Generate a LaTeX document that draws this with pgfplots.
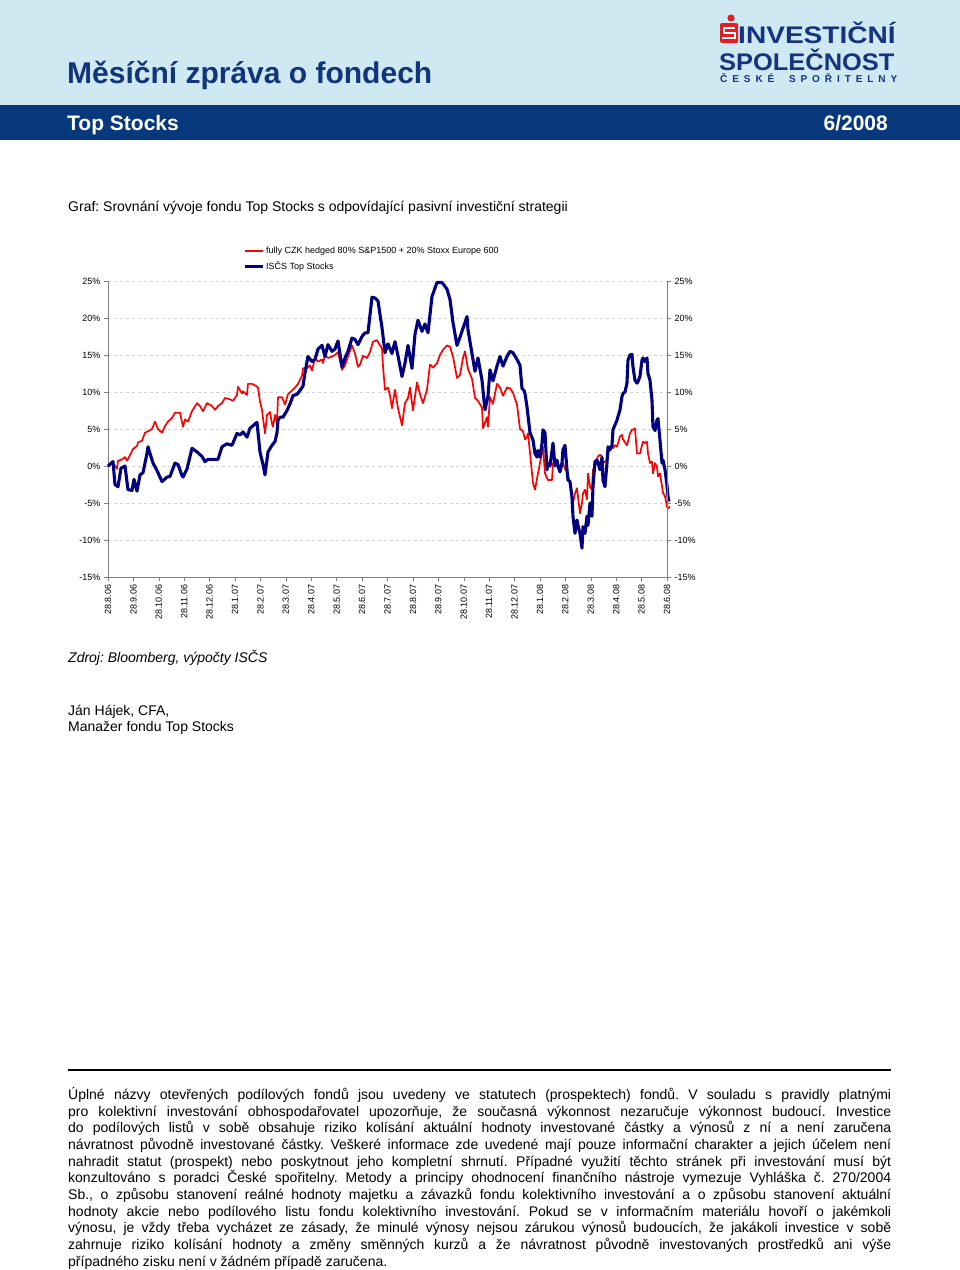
\documentclass[border=0pt]{standalone}
\usepackage{fontspec}
\setmainfont{Liberation Sans}
\usepackage{pgfplots}
\pgfplotsset{compat=1.18}
\usepackage{graphicx}

\definecolor{hdrlight}{RGB}{206,233,242}
\definecolor{hdrdark}{RGB}{8,56,124}
\definecolor{ttlblue}{RGB}{18,52,122}
\definecolor{logoblue}{RGB}{22,50,128}
\definecolor{logored}{RGB}{228,28,36}
\definecolor{fundblue}{RGB}{0,0,128}
\definecolor{benchred}{RGB}{255,0,0}

\pgfplotstableread{
x y
0 0
5 0.4
9 -0.4
10 0.7
14 0.9
17 1.2
19 0.7
24 2.0
25 2.3
29 2.7
30 3.2
34 3.4
37 4.5
40 4.7
44 5.0
47 6.0
50 5.0
54 4.5
57 5.4
60 6.0
64 6.5
67 7.2
72 7.2
75 5.3
77 6.3
80 6.0
84 7.4
89 8.5
92 8.1
95 7.4
99 8.5
104 8.1
107 7.6
110 8.1
114 8.5
117 9.2
122 9.0
125 8.8
129 9.6
130 10.7
134 9.8
135 10.1
139 9.6
140 11.1
144 11.1
147 10.9
150 10.6
152 8.7
154 7.6
155 6.5
157 4.4
159 6.9
162 7.3
164 5.7
165 5.3
167 6.9
169 5.9
170 9.3
174 9.3
177 8.3
180 9.7
184 10.2
187 10.6
190 11.1
194 12.2
195 13.2
199 13.2
202 13.6
204 12.9
207 14.6
210 14.1
214 14.4
215 13.9
217 15.0
220 14.6
224 14.8
227 15.0
230 15.4
234 13.0
237 13.6
240 14.8
244 16.3
247 15.2
250 13.4
252 13.7
255 14.9
259 14.6
262 15.4
265 16.8
269 17.0
272 16.3
274 15.9
275 13.5
277 10.3
280 10.6
282 9.5
284 7.8
287 10.3
290 7.8
294 5.5
297 8.5
300 9.2
302 10.6
305 7.5
309 11.3
312 9.7
315 8.5
319 10.3
322 13.7
325 13.3
329 13.9
332 15.0
335 15.7
339 16.3
342 16.1
345 14.8
349 11.9
352 12.3
355 14.6
357 15.5
360 13.1
364 11.8
367 9.2
370 8.8
374 7.9
375 5.1
379 6.6
380 5.3
382 9.3
385 8.4
389 11.1
392 10.6
395 9.5
399 10.6
402 10.5
405 9.9
409 8.3
412 5.0
415 4.7
417 3.6
419 4.0
420 4.4
422 1.8
425 -2.3
427 -3.2
430 -1.0
432 0.4
435 2.6
437 -1.0
440 -1.9
444 -1.9
445 0.4
449 0.8
452 -0.4
455 0.4
457 -0.4
459 -0.8
462 -2.3
465 -5.0
467 -3.7
469 -3.0
470 -4.1
472 -6.4
474 -5.0
475 -3.7
477 -3.2
479 -4.5
480 -1.0
482 -2.8
484 -3.2
485 -0.5
487 0
489 1.0
490 1.3
492 1.5
494 1.3
495 0.4
499 0.8
502 2.6
504 2.8
505 2.4
507 2.8
509 2.6
512 4.0
514 4.2
515 3.6
519 2.8
522 4.4
524 4.9
525 4.9
527 5.1
529 1.7
532 1.7
535 3.3
537 3.1
539 3.3
540 1.7
542 0.4
544 0.6
545 -1.0
547 0.4
549 -0.1
550 -1.4
552 -1.0
554 -2.7
555 -3.6
557 -4.1
559 -5.5
560 -5.7
562 -5.5
}\benchdata

\pgfplotstableread{
x y
0 0
5 0.6
7 -2.5
10 -2.8
13 -0.3
17 0
20 -3.2
24 -3.3
26 -1.8
29 -3.4
32 -1.2
35 -0.9
39 1.7
40 2.6
42 1.7
45 0.4
49 -0.6
54 -2.1
59 -1.5
62 -1.4
67 0.4
70 0.2
74 -1.3
75 -1.5
79 -0.4
84 2.4
89 1.9
94 1.3
97 0.6
100 0.9
110 0.9
114 2.6
119 3.0
124 2.8
129 4.4
132 4.2
135 4.6
139 3.9
142 5.1
149 5.9
152 1.9
155 0.2
157 -1.2
160 1.9
164 2.8
167 3.3
169 4.5
170 6.2
172 6.6
175 6.6
179 7.5
182 8.4
185 9.5
189 9.7
192 10.2
195 10.8
197 12.6
200 14.8
204 14.1
207 14.4
210 15.8
214 16.3
217 14.8
220 16.4
224 15.5
227 15.8
230 16.9
234 13.4
237 14.6
240 15.5
244 17.3
247 17.1
250 16.4
254 17.5
257 18.0
260 18.0
264 22.8
267 22.7
270 22.3
274 18.7
277 15.3
280 16.5
284 15.2
287 16.8
290 14.9
294 12.1
297 13.9
300 16.3
304 13.2
307 17.8
310 19.7
314 18.2
317 19.2
320 18.0
324 22.9
329 24.8
334 24.8
339 23.9
342 22.5
345 19.4
349 16.3
352 17.4
355 18.6
359 20.2
360 18.4
364 15.2
367 12.8
370 14.6
374 11.6
377 7.6
380 9.4
382 13.0
385 11.5
389 13.5
392 14.8
395 13.5
399 14.8
402 15.5
405 15.3
409 14.4
412 13.6
414 10.5
416 10.2
417 9.8
419 8.0
422 4.5
425 3.5
427 1.7
429 1.2
430 2.1
432 1.2
434 3.0
435 4.9
437 4.5
439 -0.5
440 0.4
442 0
445 3.1
447 0
449 0.8
450 0
452 -0.8
454 0.4
455 2.2
457 2.8
459 -0.5
460 -1.9
462 -2.1
464 -4.2
465 -6.8
467 -9.1
469 -7.3
470 -8.0
472 -9.1
474 -11.1
475 -8.2
477 -9.1
479 -6.8
480 -8.0
482 -5.0
484 -6.8
485 -2.8
487 0.6
489 0.8
490 0.4
492 -0.5
494 1.2
495 -1.9
497 -2.8
499 0.4
500 2.6
502 2.2
504 2.8
505 4.9
509 6.2
512 7.6
514 9.4
515 9.8
517 10.0
519 11.2
520 14.3
522 15.0
524 15.1
525 13.4
527 11.6
529 11.2
530 11.4
532 12.1
534 14.3
535 14.6
537 14.1
539 14.6
540 12.5
542 11.6
544 8.9
545 5.3
547 4.8
549 6.2
550 6.4
552 3.5
554 0.4
555 0.8
557 -0.5
559 -2.6
560 -4.1
561 -4.8
}\funddata

\begin{document}
\frenchspacing
\begin{tikzpicture}[x=1pt,y=1pt]
\path[use as bounding box] (0,0) rectangle (960,-1270);
\fill[white] (0,0) rectangle (960,-1270);

% header
\fill[hdrlight] (0,0) rectangle (960,-105);
\fill[hdrdark] (0,-105) rectangle (960,-140);
\node[anchor=base west,inner sep=0,text=ttlblue,font=\fontsize{30}{34}\selectfont\bfseries] at (67,-83) {Měsíční zpráva o fondech};
\node[anchor=base west,inner sep=0,text=white,font=\fontsize{21}{24}\selectfont\bfseries] at (67,-130) {Top Stocks};
\node[anchor=base east,inner sep=0,text=white,font=\fontsize{21}{24}\selectfont\bfseries] at (888,-130) {6/2008};

% logo
\fill[logored] (731,-18) circle (3.6);
\fill[logored,rounded corners=2] (720,-23) rectangle (738,-43);
\draw[white,line width=2] (735,-28) -- (723.5,-28) -- (723.5,-33) -- (734.5,-33) -- (734.5,-38) -- (722,-38);
\node[anchor=base west,inner sep=0,text=logoblue,font=\fontsize{24}{26}\selectfont\bfseries] at (738,-43) {\scalebox{1.17}[1]{INVESTIČNÍ}};
\node[anchor=base west,inner sep=0,text=logoblue,font=\fontsize{24}{26}\selectfont\bfseries] at (719,-70) {\scalebox{1.06}[1]{SPOLEČNOST}};
\node[anchor=base west,inner sep=0,text=logoblue,font=\fontsize{10}{11}\selectfont\bfseries] at (720,-82) {\makebox[177pt]{Č\hfill E\hfill S\hfill K\hfill É\hfill\hfill\hfill S\hfill P\hfill O\hfill Ř\hfill I\hfill T\hfill E\hfill L\hfill N\hfill Y}};

% texts
\node[anchor=base west,inner sep=0,font=\fontsize{14}{16}\selectfont] at (68,-211) {Graf: Srovnání vývoje fondu Top Stocks s odpovídající pasivní investiční strategii};
\node[anchor=base west,inner sep=0,font=\fontsize{14}{16}\selectfont\itshape] at (68,-662) {Zdroj: Bloomberg, výpočty ISČS};
\node[anchor=base west,inner sep=0,font=\fontsize{14}{16}\selectfont] at (68,-715) {Ján Hájek, CFA,};
\node[anchor=base west,inner sep=0,font=\fontsize{14}{16}\selectfont] at (68,-731) {Manažer fondu Top Stocks};

% chart
\begin{axis}[
  at={(108pt,-577pt)}, anchor=south west,
  scale only axis, width=559pt, height=296pt,
  xmin=0, xmax=559.02, ymin=-15, ymax=25,
  clip=false,
  axis x line*=bottom, axis y line*=left,
  axis line style={gray},
  tick style={gray, thin},
  tick align=outside, major tick length=4pt,
  xtick={0,25.41,50.82,76.23,101.64,127.05,152.46,177.87,203.28,228.69,254.10,279.51,304.92,330.33,355.74,381.15,406.56,431.97,457.38,482.79,508.20,533.61,559.02},
  xticklabels={28.8.06,28.9.06,28.10.06,28.11.06,28.12.06,28.1.07,28.2.07,28.3.07,28.4.07,28.5.07,28.6.07,28.7.07,28.8.07,28.9.07,28.10.07,28.11.07,28.12.07,28.1.08,28.2.08,28.3.08,28.4.08,28.5.08,28.6.08},
  xticklabel style={rotate=90, anchor=east, font=\fontsize{9}{10}\selectfont},
  ytick={-15,-10,-5,0,5,10,15,20,25},
  yticklabels={-15\%,-10\%,-5\%,0\%,5\%,10\%,15\%,20\%,25\%},
  yticklabel style={font=\fontsize{9}{10}\selectfont},
  ymajorgrids, major grid style={gray!35, dash pattern=on 3pt off 3pt},
  legend style={at={(0.236,1.13)}, anchor=north west, draw=none, fill=none,
    font=\fontsize{9}{11}\selectfont, row sep=3pt},
  legend cell align=left,
  legend image code/.code={\draw[#1] (0pt,0pt) -- (18pt,0pt);},
]
\addplot[benchred, line width=1.7pt, line join=round] table[x=x,y=y] {\benchdata};
\addlegendentry{fully CZK hedged 80\% S\&P1500 + 20\% Stoxx Europe 600}
\addplot[fundblue, line width=3.1pt, line join=round] table[x=x,y=y] {\funddata};
\addlegendentry{ISČS Top Stocks}
\end{axis}
\begin{axis}[
  at={(108pt,-577pt)}, anchor=south west,
  scale only axis, width=559pt, height=296pt,
  xmin=0, xmax=559.02, ymin=-15, ymax=25,
  axis x line=none, axis y line*=right,
  axis line style={gray},
  tick style={gray, thin},
  tick align=outside, major tick length=4pt,
  ytick={-15,-10,-5,0,5,10,15,20,25},
  yticklabels={-15\%,-10\%,-5\%,0\%,5\%,10\%,15\%,20\%,25\%},
  yticklabel style={font=\fontsize{9}{10}\selectfont},
]
\addplot[draw=none] coordinates {(0,0)};
\end{axis}

% footer
\draw[line width=2pt] (68,-1070) -- (891,-1070);
\node[anchor=north west,inner sep=0,text width=823pt,align=justify,font=\fontsize{14}{16.7}\selectfont] at (68,-1087) {%
Úplné názvy otevřených podílových fondů jsou uvedeny ve statutech (prospektech) fondů. V souladu s pravidly platnými\linebreak
pro kolektivní investování obhospodařovatel upozorňuje, že současná výkonnost nezaručuje výkonnost budoucí. Investice\linebreak
do podílových listů v sobě obsahuje riziko kolísání aktuální hodnoty investované částky a výnosů z ní a není zaručena\linebreak
návratnost původně investované částky. Veškeré informace zde uvedené mají pouze informační charakter a jejich účelem není\linebreak
nahradit statut (prospekt) nebo poskytnout jeho kompletní shrnutí. Případné využití těchto stránek při investování musí být\linebreak
konzultováno s poradci České spořitelny. Metody a principy ohodnocení finančního nástroje vymezuje Vyhláška č. 270/2004\linebreak
Sb., o způsobu stanovení reálné hodnoty majetku a závazků fondu kolektivního investování a o způsobu stanovení aktuální\linebreak
hodnoty akcie nebo podílového listu fondu kolektivního investování. Pokud se v informačním materiálu hovoří o jakémkoli\linebreak
výnosu, je vždy třeba vycházet ze zásady, že minulé výnosy nejsou zárukou výnosů budoucích, že jakákoli investice v sobě\linebreak
zahrnuje riziko kolísání hodnoty a změny směnných kurzů a že návratnost původně investovaných prostředků ani výše\linebreak
případného zisku není v žádném případě zaručena.};
\end{tikzpicture}
\end{document}
